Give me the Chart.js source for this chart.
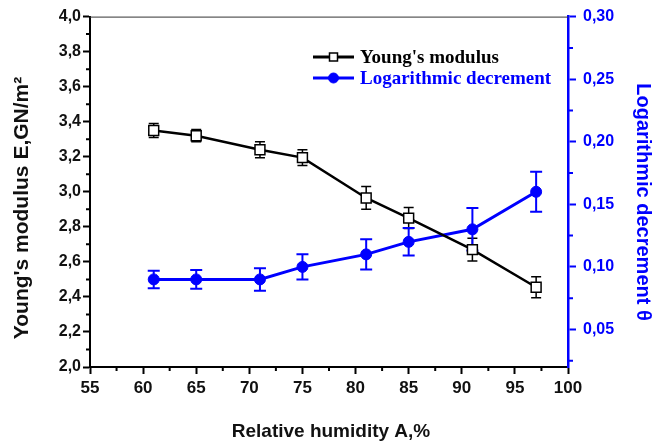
<!DOCTYPE html>
<html><head><meta charset="utf-8">
<script src="https://cdn.jsdelivr.net/npm/chart.js@4"></script>
<style>html,body{margin:0;padding:0;background:#fff}#wrap{width:658px;height:446px;position:relative}</style>
</head><body><div id="wrap"><canvas id="c"></canvas></div>
<script>
const humidity = [61, 65, 71, 75, 81, 85, 91, 97];
const youngModulus = [3.35, 3.32, 3.24, 3.195, 2.965, 2.85, 2.67, 2.455];
const youngError = [0.04, 0.035, 0.045, 0.045, 0.065, 0.06, 0.065, 0.06];
const logDecrement = [0.09, 0.09, 0.09, 0.10, 0.11, 0.12, 0.13, 0.16];
const logDecrementError = [0.007, 0.0075, 0.009, 0.010, 0.012, 0.011, 0.017, 0.016];

const xTicks = [55, 60, 65, 70, 75, 80, 85, 90, 95, 100];
const xMinorTicks = [57.5, 62.5, 67.5, 72.5, 77.5, 82.5, 87.5, 92.5, 97.5];
const yTicks = [2.0, 2.2, 2.4, 2.6, 2.8, 3.0, 3.2, 3.4, 3.6, 3.8, 4.0];
const yMinorTicks = [2.1, 2.3, 2.5, 2.7, 2.9, 3.1, 3.3, 3.5, 3.7, 3.9];
const y2Ticks = [0.05, 0.10, 0.15, 0.20, 0.25, 0.30];
const y2MinorTicks = [0.025, 0.075, 0.125, 0.175, 0.225, 0.275];

const BLUE = 'rgb(0,0,255)';
const BLACK = '#000';
const SANS = "'Liberation Sans', Arial, sans-serif";
const SERIF = "'Liberation Serif', 'Times New Roman', serif";

const comma = d => v => v.toFixed(d).replace('.', ',');

const errorBars = {
  id: 'errorBars',
  beforeDatasetsDraw(chart) {
    const ctx = chart.ctx;
    chart.data.datasets.forEach((ds) => {
      const ys = chart.scales[ds.yAxisID];
      const xs = chart.scales.x;
      ctx.save();
      ctx.strokeStyle = ds.borderColor;
      ctx.lineWidth = ds.errWidth;
      ds.data.forEach((p, j) => {
        const x = xs.getPixelForValue(p.x);
        const t = ys.getPixelForValue(p.y + ds.errors[j]);
        const b = ys.getPixelForValue(p.y - ds.errors[j]);
        const c = ds.errCap;
        ctx.beginPath();
        ctx.moveTo(x, t); ctx.lineTo(x, b);
        ctx.moveTo(x - c, t); ctx.lineTo(x + c, t);
        ctx.moveTo(x - c, b); ctx.lineTo(x + c, b);
        ctx.stroke();
      });
      ctx.restore();
    });
  }
};

const extras = {
  id: 'extras',
  afterDraw(chart) {
    const ctx = chart.ctx;
    const a = chart.chartArea;
    const sx = chart.scales.x, sy = chart.scales.y, sy2 = chart.scales.y2;
    ctx.save();
    // top frame line
    ctx.strokeStyle = '#333'; ctx.lineWidth = 1;
    ctx.beginPath(); ctx.moveTo(a.left, a.top + 0.5); ctx.lineTo(a.right, a.top + 0.5); ctx.stroke();
    // minor ticks
    ctx.lineWidth = 2; ctx.strokeStyle = BLACK;
    ctx.beginPath();
    xMinorTicks.forEach(v => { const x = sx.getPixelForValue(v); ctx.moveTo(x, a.bottom); ctx.lineTo(x, a.bottom + 4); });
    yMinorTicks.forEach(v => { const y = sy.getPixelForValue(v); ctx.moveTo(a.left, y); ctx.lineTo(a.left - 4, y); });
    ctx.stroke();
    ctx.strokeStyle = BLUE; ctx.lineWidth = 2;
    ctx.beginPath();
    y2MinorTicks.forEach(v => { const y = sy2.getPixelForValue(v); ctx.moveTo(a.right, y); ctx.lineTo(a.right + 5, y); });
    ctx.stroke();

    // axis titles
    ctx.textAlign = 'center'; ctx.textBaseline = 'middle';
    ctx.fillStyle = '#111';
    ctx.font = `bold 21px ${SANS}`;
    ctx.save(); ctx.translate(22, 208); ctx.rotate(-Math.PI / 2);
    ctx.fillText("Young's modulus E,GN/m²", 0, 0); ctx.restore();
    ctx.font = `bold 19px ${SANS}`;
    ctx.fillText('Relative humidity A,%', 331, 432);
    ctx.fillStyle = BLUE;
    ctx.font = `bold 20px ${SANS}`;
    ctx.save(); ctx.translate(643, 202); ctx.rotate(Math.PI / 2);
    ctx.fillText('Logarithmic decrement θ', 0, 0); ctx.restore();

    // legend
    const items = chart.data.datasets;
    const ly = [57, 78];
    items.forEach((ds, i) => {
      const y = ly[i];
      ctx.strokeStyle = ds.borderColor; ctx.lineWidth = 3;
      ctx.beginPath(); ctx.moveTo(313, y); ctx.lineTo(354, y); ctx.stroke();
      ctx.fillStyle = ds.pointBackgroundColor; ctx.strokeStyle = ds.pointBorderColor;
      ctx.lineWidth = ds.pointBorderWidth;
      ctx.beginPath();
      if (ds.pointStyle === 'rect') {
        const s = ds.legendRadius;
        ctx.rect(333.5 - s, y - s, 2 * s, 2 * s);
      } else {
        ctx.arc(333.5, y, ds.legendRadius, 0, Math.PI * 2);
      }
      ctx.fill(); ctx.stroke();
      ctx.fillStyle = ds.borderColor;
      ctx.textAlign = 'left';
      ctx.font = `bold 19px ${SERIF}`;
      ctx.fillText(ds.label, 360, y + 1);
    });
    ctx.restore();
  }
};

const fixTicks = list => scale => { scale.ticks = list.map(v => ({ value: v })); };

new Chart(document.getElementById('c'), {
  type: 'line',
  data: {
    datasets: [
      {
        label: "Young's modulus",
        data: humidity.map((x, i) => ({ x, y: youngModulus[i] })),
        errors: youngError,
        errWidth: 1.5, errCap: 5,
        yAxisID: 'y',
        borderColor: BLACK, borderWidth: 2.5,
        pointStyle: 'rect', pointRadius: 7,
        pointBackgroundColor: '#fff', pointBorderColor: BLACK, pointBorderWidth: 1.5,
        legendRadius: 4,
        tension: 0
      },
      {
        label: 'Logarithmic decrement',
        data: humidity.map((x, i) => ({ x, y: logDecrement[i] })),
        errors: logDecrementError,
        errWidth: 2, errCap: 6,
        yAxisID: 'y2',
        borderColor: BLUE, borderWidth: 3,
        pointStyle: 'circle', pointRadius: 5.5,
        pointBackgroundColor: BLUE, pointBorderColor: BLUE, pointBorderWidth: 1,
        legendRadius: 5,
        tension: 0
      }
    ]
  },
  options: {
    responsive: true,
    maintainAspectRatio: false,
    animation: false,
    layout: { padding: { top: 15, left: 0, right: 0, bottom: 0 } },
    plugins: { legend: { display: false }, tooltip: { enabled: false } },
    scales: {
      x: {
        type: 'linear', position: 'bottom', min: 55, max: 100,
        afterBuildTicks: fixTicks(xTicks),
        afterFit: s => { s.height = 79; },
        grid: { drawOnChartArea: false, tickLength: 7, tickWidth: 2, tickColor: BLACK },
        border: { color: BLACK, width: 2 },
        ticks: { color: '#111', font: { family: SANS, size: 17, weight: 'bold' }, padding: 4, maxRotation: 0, callback: v => String(v) }
      },
      y: {
        type: 'linear', position: 'left', min: 2, max: 4,
        afterBuildTicks: fixTicks(yTicks),
        afterFit: s => { s.width = 90; },
        grid: { drawOnChartArea: false, tickLength: 7, tickWidth: 2, tickColor: BLACK },
        border: { color: BLACK, width: 2 },
        ticks: { color: '#111', font: { family: SANS, size: 16, weight: 'bold' }, padding: 2, callback: comma(1) }
      },
      y2: {
        type: 'linear', position: 'right', min: 0.02, max: 0.30,
        afterBuildTicks: fixTicks(y2Ticks),
        afterFit: s => { s.width = 90; },
        grid: { drawOnChartArea: false, tickLength: 8, tickWidth: 2, tickColor: BLUE },
        border: { color: BLUE, width: 2.5 },
        ticks: { color: BLUE, font: { family: SANS, size: 16, weight: 'bold' }, padding: 7, callback: comma(2) }
      }
    }
  },
  plugins: [errorBars, extras]
});
</script></body></html>
